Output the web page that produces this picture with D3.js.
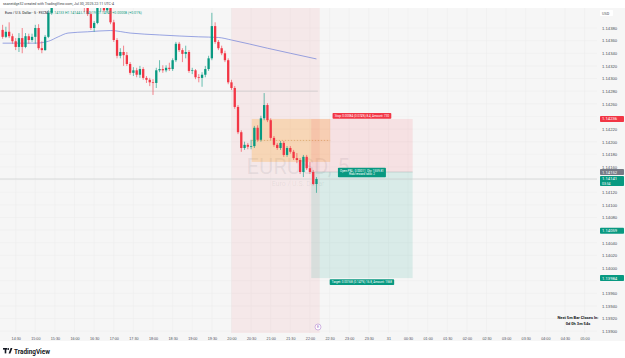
<!DOCTYPE html>
<html lang="en">
<head>
    <meta charset="UTF-8">
    <title>EURUSD 5</title>
    <script src="https://cdn.jsdelivr.net/npm/d3@7"></script>
    <style>
        body { margin: 0; background: #fff; }
        svg { display: block; font-family: Roboto, "Liberation Sans", sans-serif; }
        .axis text { fill: #4c4f57; }
    </style>
</head>
<body>
<div id="chart"></div>
<script>
    // 5 minute bars, first bar at 14:10
    var barStart = "2025-07-30 14:10";
    var opens = [1.14377,1.14366,1.14374,1.14367,1.14359,1.14350,1.14364,1.14350,1.14367,1.14361,
        1.14366,1.14380,1.14348,1.14345,1.14366,1.14404,1.14421,1.14437,1.14446,1.14459,
        1.14450,1.14462,1.14472,1.14456,1.14443,1.14434,1.14412,1.14402,1.14380,1.14388,
        1.14412,1.14418,1.14408,1.14416,1.14389,1.14361,1.14336,1.14342,1.14337,1.14323,
        1.14309,1.14313,1.14306,1.14315,1.14301,1.14298,1.14294,1.14293,1.14313,1.14315,
        1.14313,1.14317,1.14315,1.14329,1.14355,1.14345,1.14339,1.14342,1.14312,1.14313,
        1.14302,1.14301,1.14306,1.14315,1.14332,1.14383,1.14358,1.14348,1.14340,1.14329,
        1.14294,1.14285,1.14255,1.14215,1.14190,1.14195,1.14192,1.14193,1.14222,1.14203,
        1.14237,1.14258,1.14234,1.14206,1.14195,1.14190,1.14198,1.14179,1.14190,1.14184,
        1.14174,1.14171,1.14152,1.14176,1.14158,1.14152,1.14133];
    var highs = [1.14385,1.14382,1.14389,1.14371,1.14364,1.14372,1.14380,1.14372,1.14371,1.14371,
        1.14385,1.14386,1.14359,1.14369,1.14408,1.14427,1.14443,1.14456,1.14464,1.14472,
        1.14469,1.14481,1.14478,1.14465,1.14453,1.14440,1.14415,1.14405,1.14391,1.14420,
        1.14424,1.14424,1.14421,1.14420,1.14393,1.14364,1.14348,1.14352,1.14342,1.14326,
        1.14318,1.14317,1.14320,1.14318,1.14304,1.14301,1.14299,1.14317,1.14329,1.14321,
        1.14321,1.14325,1.14332,1.14358,1.14358,1.14348,1.14352,1.14345,1.14317,1.14315,
        1.14307,1.14310,1.14320,1.14336,1.14404,1.14389,1.14361,1.14352,1.14344,1.14332,
        1.14298,1.14288,1.14258,1.14218,1.14200,1.14198,1.14203,1.14225,1.14226,1.14241,
        1.14277,1.14261,1.14237,1.14209,1.14198,1.14201,1.14201,1.14193,1.14193,1.14187,
        1.14182,1.14174,1.14179,1.14179,1.14168,1.14155,1.14144];
    var lows = [1.14363,1.14364,1.14364,1.14355,1.14345,1.14342,1.14340,1.14348,1.14355,1.14358,
        1.14355,1.14345,1.14340,1.14344,1.14364,1.14401,1.14418,1.14431,1.14440,1.14443,
        1.14443,1.14456,1.14453,1.14437,1.14427,1.14405,1.14399,1.14377,1.14374,1.14386,
        1.14405,1.14405,1.14404,1.14386,1.14358,1.14332,1.14332,1.14320,1.14320,1.14306,
        1.14304,1.14302,1.14301,1.14298,1.14293,1.14288,1.14274,1.14285,1.14310,1.14309,
        1.14310,1.14312,1.14312,1.14326,1.14342,1.14326,1.14332,1.14309,1.14307,1.14299,
        1.14294,1.14287,1.14302,1.14312,1.14329,1.14355,1.14345,1.14337,1.14326,1.14291,
        1.14282,1.14252,1.14212,1.14184,1.14187,1.14188,1.14188,1.14190,1.14200,1.14200,
        1.14234,1.14231,1.14203,1.14192,1.14187,1.14187,1.14176,1.14176,1.14181,1.14171,
        1.14166,1.14149,1.14144,1.14155,1.14149,1.14131,1.14119];
    var closes = [1.14366,1.14374,1.14367,1.14359,1.14350,1.14364,1.14350,1.14367,1.14361,1.14366,
        1.14380,1.14348,1.14345,1.14366,1.14404,1.14421,1.14437,1.14446,1.14459,1.14450,
        1.14462,1.14472,1.14456,1.14443,1.14434,1.14412,1.14402,1.14380,1.14388,1.14412,
        1.14418,1.14408,1.14416,1.14389,1.14361,1.14336,1.14342,1.14337,1.14323,1.14309,
        1.14313,1.14306,1.14315,1.14301,1.14298,1.14294,1.14293,1.14313,1.14315,1.14313,
        1.14317,1.14315,1.14329,1.14355,1.14345,1.14339,1.14342,1.14312,1.14313,1.14302,
        1.14301,1.14306,1.14315,1.14332,1.14383,1.14358,1.14348,1.14340,1.14329,1.14294,
        1.14285,1.14255,1.14215,1.14190,1.14195,1.14192,1.14193,1.14222,1.14203,1.14237,
        1.14258,1.14234,1.14206,1.14195,1.14190,1.14198,1.14179,1.14190,1.14184,1.14174,
        1.14171,1.14152,1.14176,1.14158,1.14152,1.14133,1.14141];

    // moving average, read at a few bars
    var maTimes = ["2025-07-30 14:10","2025-07-30 15:00","2025-07-30 15:20","2025-07-30 15:35","2025-07-30 15:50",
        "2025-07-30 16:20","2025-07-30 16:55","2025-07-30 17:25","2025-07-30 18:10","2025-07-30 19:10",
        "2025-07-30 19:40","2025-07-30 20:00","2025-07-30 20:55","2025-07-30 21:30","2025-07-30 22:10"];
    var maValues = [1.14356,1.14356,1.14359,1.14366,1.14372,1.14374,1.14376,1.14372,1.14369,1.14366,
        1.14365,1.14361,1.14348,1.14340,1.14331];

    var priceTicks = [1.13900,1.13920,1.13940,1.13960,1.13980,1.14000,1.14020,1.14040,1.14060,1.14080,
        1.14100,1.14120,1.14140,1.14160,1.14180,1.14200,1.14220,1.14240,1.14260,1.14280,
        1.14300,1.14320,1.14340,1.14360,1.14380];

    // drawings
    var bandTimes = ["2025-07-30 20:00", "2025-07-30 22:15"];
    var boxTimes = ["2025-07-30 20:31", "2025-07-30 22:31"];
    var boxLevels = [1.14236, 1.14168];
    var positionTimes = ["2025-07-30 22:02", "2025-07-31 00:37"];
    var positionLevels = [1.14236, 1.14152, 1.13984]; // stop, entry, target
    var hLine = { level: 1.14280, end: "2025-07-30 22:12" };

    var tagPrices = [1.14236, 1.14152, 1.14141, 1.14059, 1.13984];
    var tagTexts = [["1.14236"], ["1.14152"], ["1.14141", "03:54"], ["1.14059"], ["1.13984"]];
    var tagColors = ["#f23645", "#787b86", "#089981", "#089981", "#089981"];

    var W = 625, H = 358,
        paneW = 597, paneTop = 8, paneBottom = 333;

    var parseT = d3.timeParse("%Y-%m-%d %H:%M");

    var svg = d3.select("#chart")
        .append("svg")
        .attr("width", W)
        .attr("height", H);

    var x = d3.scaleTime()
        .domain([parseT("2025-07-30 14:06"), parseT("2025-07-31 05:19")])
        .range([0, paneW]);
    var y = d3.scaleLinear()
        .domain([1.14000, 1.14380])
        .range([268, 28]);

    var bars = opens.map(function(o, i) {
        return { t: d3.timeMinute.offset(parseT(barStart), 5 * i), o: o, h: highs[i], l: lows[i], c: closes[i] };
    });
    var last = bars[bars.length - 1];

    svg.append("rect").attr("x", 0).attr("y", paneTop).attr("width", W).attr("height", 333)
        .attr("fill", "#f6f6f6");

    svg.append("clipPath").attr("id", "pane")
        .append("rect").attr("x", 0).attr("y", paneTop).attr("width", paneW).attr("height", paneBottom - paneTop);

    var pane = svg.append("g").attr("clip-path", "url(#pane)");

    // grid
    pane.selectAll(".vgrid")
        .data(x.ticks(d3.timeMinute.every(30)))
        .enter().append("line")
        .attr("x1", function(d) { return x(d); }).attr("x2", function(d) { return x(d); })
        .attr("y1", paneTop).attr("y2", paneBottom)
        .attr("stroke", "#ececec").attr("stroke-width", 0.5);
    pane.selectAll(".hgrid")
        .data(priceTicks)
        .enter().append("line")
        .attr("x1", 0).attr("x2", paneW)
        .attr("y1", function(d) { return y(d); }).attr("y2", function(d) { return y(d); })
        .attr("stroke", "#ececec").attr("stroke-width", 0.5);

    // highlighted session
    pane.append("rect")
        .attr("x", x(parseT(bandTimes[0])))
        .attr("y", paneTop)
        .attr("width", x(parseT(bandTimes[1])) - x(parseT(bandTimes[0])))
        .attr("height", paneBottom - paneTop)
        .attr("fill", "rgba(242,54,69,0.07)");

    // watermark
    var wmX = 298;
    pane.append("text").attr("x", wmX).attr("y", 174).attr("text-anchor", "middle")
        .attr("font-size", 22).attr("fill", "rgba(120,123,134,0.13)").text("EURUSD, 5");
    pane.append("text").attr("x", wmX).attr("y", 186).attr("text-anchor", "middle")
        .attr("font-size", 7).attr("fill", "rgba(120,123,134,0.13)").text("Euro / U.S. Dollar");

    // rectangle drawing
    var bx0 = x(parseT(boxTimes[0])), bx1 = x(parseT(boxTimes[1]));
    pane.append("rect")
        .attr("x", bx0).attr("y", y(boxLevels[0]))
        .attr("width", bx1 - bx0).attr("height", y(boxLevels[1]) - y(boxLevels[0]))
        .attr("fill", "rgba(255,152,0,0.22)");
    pane.append("line")
        .attr("x1", bx0).attr("x2", bx1)
        .attr("y1", y((boxLevels[0] + boxLevels[1]) / 2)).attr("y2", y((boxLevels[0] + boxLevels[1]) / 2))
        .attr("stroke", "#c78a3a").attr("stroke-width", 0.5).attr("stroke-dasharray", "1.5,1.5");

    // short position
    var px0 = x(parseT(positionTimes[0])), px1 = x(parseT(positionTimes[1]));
    pane.append("rect")
        .attr("x", px0).attr("y", y(positionLevels[0]))
        .attr("width", px1 - px0).attr("height", y(positionLevels[1]) - y(positionLevels[0]))
        .attr("fill", "rgba(242,54,69,0.11)");
    pane.append("rect")
        .attr("x", px0).attr("y", y(positionLevels[1]))
        .attr("width", px1 - px0).attr("height", y(positionLevels[2]) - y(positionLevels[1]))
        .attr("fill", "rgba(8,153,129,0.12)");
    pane.append("line")
        .attr("x1", px0).attr("x2", px1)
        .attr("y1", y(positionLevels[1])).attr("y2", y(positionLevels[1]))
        .attr("stroke", "#a7b7b4").attr("stroke-width", 0.5);

    // horizontal level and price line
    pane.append("line")
        .attr("x1", 0).attr("x2", x(parseT(hLine.end)))
        .attr("y1", y(hLine.level)).attr("y2", y(hLine.level))
        .attr("stroke", "#c2c2c2").attr("stroke-width", 0.6);
    pane.append("line")
        .attr("x1", 0).attr("x2", paneW)
        .attr("y1", y(last.c)).attr("y2", y(last.c))
        .attr("stroke", "#c9cccc").attr("stroke-width", 0.6);

    // moving average
    var ma = d3.line()
        .x(function(d, i) { return x(parseT(maTimes[i])); })
        .y(function(d) { return y(d); })
        .curve(d3.curveMonotoneX);
    pane.append("path").datum(maValues)
        .attr("d", ma)
        .attr("fill", "none").attr("stroke", "#6f7fd9").attr("stroke-width", 0.7);

    // candles
    var bw = 2.3;
    var candle = pane.selectAll(".candle")
        .data(bars)
        .enter().append("g")
        .attr("class", "candle")
        .attr("fill", function(d) { return d.c >= d.o ? "#089981" : "#f23645"; })
        .attr("stroke", function(d) { return d.c >= d.o ? "#089981" : "#f23645"; });
    candle.append("line")
        .attr("x1", function(d) { return x(d.t); }).attr("x2", function(d) { return x(d.t); })
        .attr("y1", function(d) { return y(d.h); }).attr("y2", function(d) { return y(d.l); })
        .attr("stroke-width", 0.6);
    candle.append("rect")
        .attr("stroke", "none")
        .attr("x", function(d) { return x(d.t) - bw / 2; })
        .attr("width", bw)
        .attr("y", function(d) { return y(Math.max(d.o, d.c)); })
        .attr("height", function(d) { return Math.max(0.7, Math.abs(y(d.o) - y(d.c))); });

    // position labels
    function boxLabel(cx, cy, lines, fill, fs) {
        var lh = fs * 1.25, w = 0;
        var g = svg.append("g");
        var t = g.append("text").attr("text-anchor", "middle").attr("font-size", fs).attr("fill", "#fff");
        lines.forEach(function(s, i) {
            t.append("tspan").attr("x", cx).attr("y", cy - (lines.length - 1) * lh / 2 + i * lh + fs * 0.35).text(s);
        });
        w = t.node().getBBox().width + 4;
        g.insert("rect", "text")
            .attr("x", cx - w / 2).attr("y", cy - lines.length * lh / 2 - 1)
            .attr("width", w).attr("height", lines.length * lh + 2)
            .attr("rx", 0.8).attr("fill", fill);
    }
    var pcx = (px0 + px1) / 2;
    boxLabel(pcx, y(positionLevels[0]) - 3, ["Stop: 0.00084 (0.074%) 8.4, Amount: 730"], "#f23645", 3);
    boxLabel(pcx, y(positionLevels[1]) + 0.5, ["Open P&L: 0.00011, Qty: 1559.81", "Risk/reward ratio: 2"], "#089981", 3);
    boxLabel(pcx, y(positionLevels[2]) + 4, ["Target: 0.00168 (0.147%) 16.8, Amount: 1568"], "#089981", 3);

    // price axis, ticks under a tag are hidden like on the chart
    var shownTicks = priceTicks.filter(function(t) {
        return tagPrices.every(function(p, i) {
            var top = y(p) - 3, bottom = top + (tagTexts[i].length > 1 ? 10 : 6);
            return y(t) < top - 1.2 || y(t) > bottom + 1.2;
        });
    });
    var yAxis = svg.append("g")
        .attr("class", "axis")
        .attr("transform", "translate(" + (paneW + 3) + ",0)")
        .call(d3.axisRight(y).tickValues(shownTicks).tickSize(0).tickFormat(d3.format(".5f")));
    yAxis.select(".domain").remove();
    yAxis.selectAll("text").attr("font-size", 4.2).attr("font-family", null).attr("x", 2);

    svg.append("rect").attr("x", paneW + 3).attr("y", 10).attr("width", 13).attr("height", 6)
        .attr("fill", "#fff").attr("rx", 0.8);
    svg.append("text").attr("x", paneW + 5).attr("y", 14.5).attr("font-size", 3.8).attr("fill", "#4c4f57").text("USD");

    tagPrices.forEach(function(p, i) {
        var n = tagTexts[i].length, hh = n > 1 ? 10 : 6;
        svg.append("rect")
            .attr("x", paneW + 3).attr("y", y(p) - 3).attr("width", 24).attr("height", hh)
            .attr("rx", 0.8).attr("fill", tagColors[i]);
        tagTexts[i].forEach(function(s, k) {
            svg.append("text")
                .attr("x", paneW + 5).attr("y", y(p) + 1.5 + k * 4.4)
                .attr("font-size", k ? 3.4 : 4.2).attr("fill", "#fff").text(s);
        });
    });

    // time axis
    var xAxis = svg.append("g")
        .attr("class", "axis")
        .attr("transform", "translate(0," + (paneBottom + 1) + ")")
        .call(d3.axisBottom(x).ticks(d3.timeMinute.every(30)).tickSize(0)
            .tickFormat(function(d) {
                return d.getHours() === 0 && d.getMinutes() === 0 ? d3.timeFormat("%-d")(d) : d3.timeFormat("%H:%M")(d);
            }));
    xAxis.select(".domain").remove();
    xAxis.selectAll("text").attr("font-size", 3.7).attr("font-family", null).attr("dy", "0.9em");

    // event marker
    svg.append("circle").attr("cx", 318).attr("cy", 327).attr("r", 3)
        .attr("fill", "#fff").attr("stroke", "#b58ad0").attr("stroke-width", 0.6);
    svg.append("text").attr("x", 318).attr("y", 328.4).attr("text-anchor", "middle")
        .attr("font-size", 3.8).attr("fill", "#9b6cc0").text("E");

    // countdown table
    svg.append("text").attr("x", 578).attr("y", 318.5).attr("text-anchor", "middle")
        .attr("font-size", 4).attr("font-weight", "bold").attr("fill", "#131722").text("Next 5m Bar Closes In:");
    svg.append("text").attr("x", 578).attr("y", 324.5).attr("text-anchor", "middle")
        .attr("font-size", 4).attr("font-weight", "bold").attr("fill", "#131722").text("0d 0h 3m 54s");

    // header
    svg.append("text").attr("x", 3).attr("y", 5.2).attr("font-size", 3.6).attr("fill", "#3d3f46")
        .text("ssaneidge32 created with TradingView.com, Jul 30, 2025 22:11 UTC-4");
    var f5 = d3.format(".5f");
    var chg = last.c - bars[bars.length - 2].c;
    var legend = svg.append("text").attr("x", 5).attr("y", 14.3).attr("font-size", 3.5).attr("fill", "#131722");
    legend.append("tspan").text("Euro / U.S. Dollar \u00b7 5 \u00b7 FXCM  ");
    legend.append("tspan").attr("fill", "#089981")
        .text("O" + f5(last.o) + " H" + f5(last.h) + " L" + f5(last.l) + " C" + f5(last.c) +
            " +" + f5(chg) + " (+" + d3.format(".2f")(chg / bars[bars.length - 2].c * 100) + "%)");

    // logo
    var logo = svg.append("g").attr("fill", "#131722");
    logo.append("rect").attr("x", 3).attr("y", 348).attr("width", 4).attr("height", 1.6);
    logo.append("rect").attr("x", 4.7).attr("y", 348).attr("width", 1.6).attr("height", 5.4);
    logo.append("circle").attr("cx", 8.2).attr("cy", 349).attr("r", 0.9);
    logo.append("path").attr("d", "M8.6,353.4 L10.6,348 L12.4,348 L10.4,353.4 Z");
    svg.append("text").attr("x", 14).attr("y", 353.6).attr("font-size", 6.4).attr("font-weight", "bold")
        .attr("fill", "#131722").text("TradingView");
</script>
</body>
</html>
